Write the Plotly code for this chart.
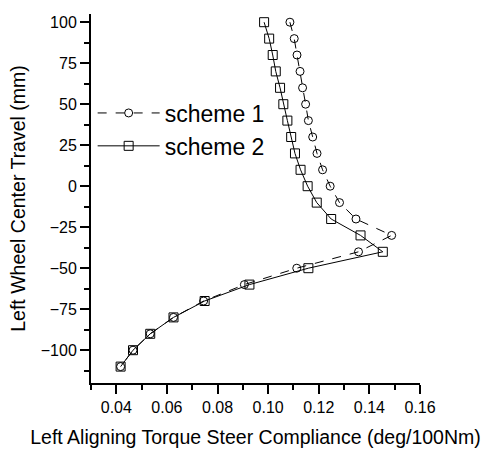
import plotly.graph_objects as go

travel = [100, 90, 80, 70, 60, 50, 40, 30, 20, 10, 0, -10, -20, -30, -40, -50, -60, -70, -80, -90, -100, -110]

scheme1 = [0.1086, 0.1103, 0.1114, 0.1126, 0.1136, 0.1148, 0.1159, 0.1176, 0.1193, 0.1215,
           0.1245, 0.1282, 0.1347, 0.1488, 0.1357, 0.1113, 0.0906, 0.0745, 0.0626, 0.0534,
           0.0466, 0.0417]
scheme2 = [0.0984, 0.1004, 0.1018, 0.1030, 0.1047, 0.1060, 0.1076, 0.1091, 0.1106, 0.1128,
           0.1156, 0.1192, 0.1249, 0.1365, 0.1453, 0.1159, 0.0926, 0.0749, 0.0626, 0.0534,
           0.0466, 0.0417]

FONT = "Liberation Sans, Arial, sans-serif"

fig = go.Figure()
fig.add_trace(go.Scatter(
    x=scheme1, y=travel, mode="lines+markers", name="scheme 1",
    legendgroup="a",
    line=dict(color="black", width=1, dash="dash"),
    marker=dict(symbol="circle-open", size=8, color="black", line=dict(width=1, color="black")),
))
fig.add_trace(go.Scatter(
    x=scheme2, y=travel, mode="lines+markers", name="scheme 2",
    legendgroup="b",
    line=dict(color="black", width=1),
    marker=dict(symbol="square-open", size=9, color="black", line=dict(width=1, color="black")),
))

fig.update_layout(
    width=495, height=457,
    margin=dict(l=91, r=75, t=14, b=74),
    paper_bgcolor="white", plot_bgcolor="white",
    font=dict(family=FONT, color="black", size=15),
    showlegend=True,
    legend=dict(x=0.005, y=0.79, xanchor="left", yanchor="top",
                font=dict(size=23, family=FONT), bgcolor="rgba(0,0,0,0)",
                tracegroupgap=0, itemwidth=62),
)
fig.update_xaxes(
    range=[0.03, 0.16], tickmode="array",
    tickvals=[0.04, 0.06, 0.08, 0.10, 0.12, 0.14, 0.16],
    ticktext=["0.04", "0.06", "0.08", "0.10", "0.12", "0.14", "0.16"],
    ticks="outside", ticklen=9, tickwidth=1.5, tickcolor="black",
    minor=dict(tickvals=[0.03, 0.05, 0.07, 0.09, 0.11, 0.13, 0.15], ticks="outside", ticklen=5, tickwidth=1.5, tickcolor="black"),
    showline=True, linecolor="black", linewidth=2, showgrid=False, zeroline=False,
    tickfont=dict(size=16),
    title=dict(text="Left Aligning Torque Steer Compliance (deg/100Nm)", font=dict(size=19.5), standoff=15),
)
fig.update_yaxes(
    range=[-120, 105], tickmode="array",
    tickvals=[100, 75, 50, 25, 0, -25, -50, -75, -100],
    ticks="outside", ticklen=9, tickwidth=1.5, tickcolor="black",
    minor=dict(tickvals=[87.5, 62.5, 37.5, 12.5, -12.5, -37.5, -62.5, -87.5, -112.5], ticks="outside", ticklen=5, tickwidth=1.5, tickcolor="black"),
    showline=True, linecolor="black", linewidth=2, showgrid=False, zeroline=False,
    tickfont=dict(size=16),
    title=dict(text="Left Wheel Center Travel (mm)", font=dict(size=19.5), standoff=10),
)

fig.write_html("out.html")
